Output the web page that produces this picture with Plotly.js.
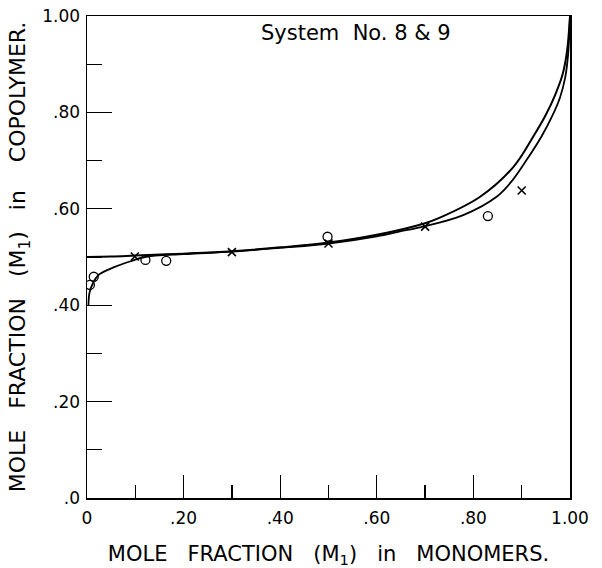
<!DOCTYPE html>
<html>
<head>
<meta charset="utf-8">
<script src="https://cdn.plot.ly/plotly-3.0.1.min.js"></script>
<style>html,body{margin:0;padding:0;background:#fff;}</style>
</head>
<body>
<div id="chart" style="width:602px;height:568px;"></div>
<script>
// Curve A (starts near 0.40 at f1 = 0)
const curveAX = [0.003, 0.005, 0.012, 0.024, 0.059, 0.093, 0.12, 0.20, 0.30, 0.40, 0.50, 0.60, 0.648, 0.696, 0.779, 0.848, 0.88, 0.91, 0.941, 0.962, 0.979, 0.990, 0.996, 1.0];
const curveAY = [0.400, 0.425, 0.445, 0.463, 0.480, 0.492, 0.500, 0.506, 0.511, 0.519, 0.528, 0.543, 0.553, 0.563, 0.587, 0.625, 0.658, 0.701, 0.750, 0.790, 0.830, 0.872, 0.920, 1.0];
// Curve B (starts at 0.50 at f1 = 0)
const curveBX = [0.0, 0.05, 0.10, 0.20, 0.30, 0.40, 0.50, 0.60, 0.70, 0.727, 0.814, 0.883, 0.924, 0.950, 0.970, 0.985, 0.994, 1.0];
const curveBY = [0.500, 0.501, 0.503, 0.507, 0.512, 0.520, 0.530, 0.546, 0.570, 0.580, 0.625, 0.687, 0.750, 0.795, 0.838, 0.880, 0.928, 1.0];
// Experimental points: circles
const circleX = [0.006, 0.014, 0.121, 0.164, 0.498, 0.830];
const circleY = [0.442, 0.459, 0.494, 0.492, 0.542, 0.585];
// Experimental points: crosses
const crossX = [0.099, 0.300, 0.500, 0.700, 0.900];
const crossY = [0.501, 0.510, 0.528, 0.563, 0.638];
// Tick labels
const tickVals = [0, 0.2, 0.4, 0.6, 0.8, 1.0];
const xTickText = ['0', '.20', '.40', '.60', '.80', '1.00'];
const yTickText = ['.0', '.20', '.40', '.60', '.80', '1.00'];

const FONT = 'DejaVu Sans, Arial, sans-serif';
const sp = '\u00a0\u00a0\u00a0';

const traces = [
  {x: curveAX, y: curveAY, mode: 'lines', line: {color: '#000', width: 1.8, shape: 'spline', smoothing: 1}, hoverinfo: 'skip'},
  {x: curveBX, y: curveBY, mode: 'lines', line: {color: '#000', width: 2, shape: 'spline', smoothing: 1}, hoverinfo: 'skip'},
  {x: circleX, y: circleY, mode: 'markers', marker: {symbol: 'circle-open', size: 9, color: '#000', line: {width: 1.3, color: '#000'}}},
  {x: crossX, y: crossY, mode: 'markers', marker: {symbol: 'x-thin-open', size: 8, color: '#000', line: {width: 1.6, color: '#000'}}}
];

const layout = {
  width: 602, height: 568,
  margin: {l: 87, r: 32, t: 16, b: 70},
  paper_bgcolor: '#fff', plot_bgcolor: '#fff',
  showlegend: false,
  font: {family: FONT, color: '#000'},
  xaxis: {
    range: [0, 1], autorange: false,
    showgrid: false, zeroline: false,
    showline: true, mirror: true, linecolor: '#000', linewidth: 1.5,
    ticks: 'inside', ticklen: 23, tickwidth: 1.3, tickcolor: '#000',
    tickvals: tickVals, ticktext: xTickText,
    tickfont: {size: 17, family: FONT, color: '#000'},
    ticklabelstandoff: 4,
    minor: {dtick: 0.1, tick0: 0, ticks: 'inside', ticklen: 13, tickwidth: 1.3, tickcolor: '#000', showgrid: false},
    title: {text: 'MOLE' + sp + 'FRACTION' + sp + '(M<sub>1</sub>)' + sp + 'in' + sp + 'MONOMERS.', font: {size: 21, family: FONT, color: '#000'}, standoff: 20},
    automargin: false
  },
  yaxis: {
    range: [0, 1], autorange: false,
    showgrid: false, zeroline: false,
    showline: true, mirror: true, linecolor: '#000', linewidth: 1.5,
    ticks: 'inside', ticklen: 25, tickwidth: 1.3, tickcolor: '#000',
    tickvals: tickVals, ticktext: yTickText,
    tickfont: {size: 17, family: FONT, color: '#000'},
    ticklabelstandoff: 2,
    minor: {dtick: 0.1, tick0: 0, ticks: 'inside', ticklen: 15, tickwidth: 1.3, tickcolor: '#000', showgrid: false},
    title: {text: 'MOLE' + sp + 'FRACTION' + sp + '(M<sub>1</sub>)' + sp + 'in' + sp + '\u00a0' + 'COPOLYMER.', font: {size: 22, family: FONT, color: '#000'}, standoff: 10},
    automargin: false
  },
  annotations: [{
    text: 'System' + '\u00a0\u00a0' + 'No. 8' + '\u00a0' + '&' + '\u00a0' + '9',
    xref: 'x', yref: 'y', x: 0.557, y: 0.965,
    showarrow: false, font: {size: 21, family: FONT, color: '#000'},
    xanchor: 'center', yanchor: 'middle'
  }]
};

Plotly.newPlot('chart', traces, layout, {displayModeBar: false, staticPlot: true});
</script>
</body>
</html>
